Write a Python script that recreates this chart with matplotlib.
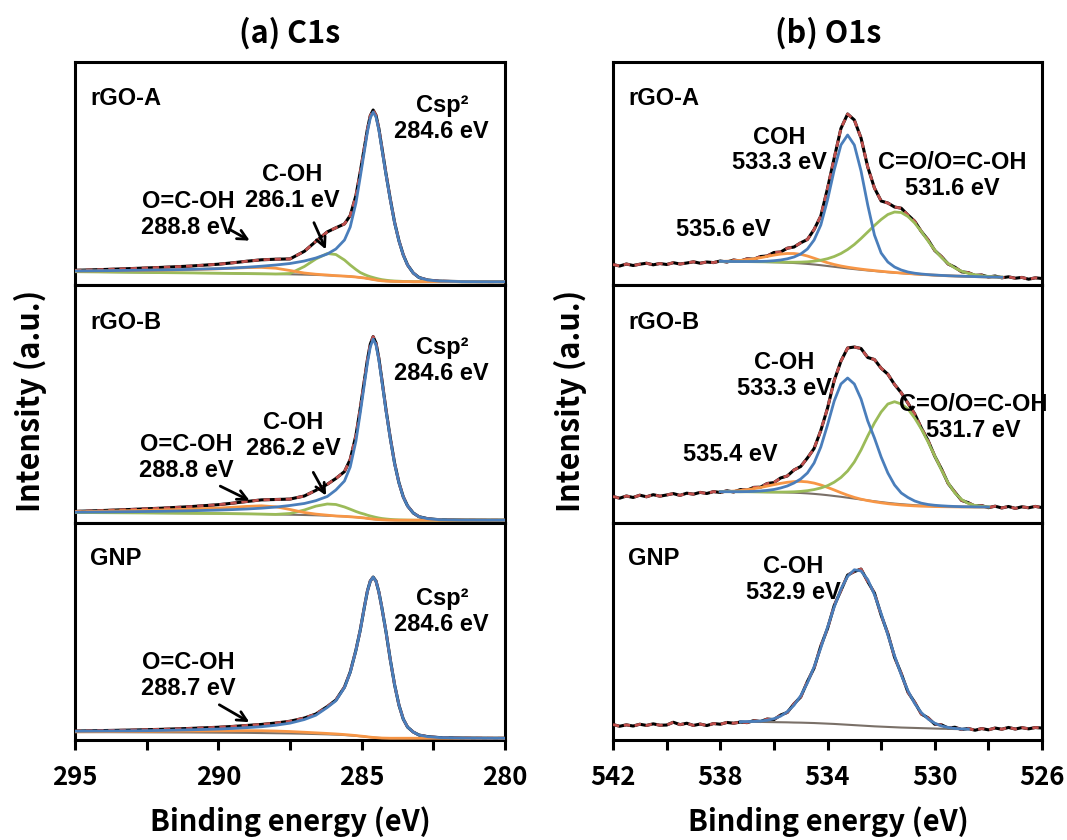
import numpy as np
import matplotlib
matplotlib.use("Agg")
import matplotlib.pyplot as plt

# ---------------- C1s (binding energy grid shared by all three C1s panels)
E_C1S = [295, 294, 293, 292, 291, 290, 289.5, 289, 288.5, 288, 287.5, 287,
         286.6, 286.2, 285.9, 285.6, 285.4, 285.2, 285.05, 284.9, 284.8, 284.7,
         284.6, 284.5, 284.4, 284.3, 284.15, 284.0, 283.85, 283.7, 283.55, 283.4,
         283.2, 283.0, 282.7, 282.3, 281.5, 280.5, 280]

# rGO-A
c1s_a_data = [14.7, 15.5, 16.5, 17.6, 18.9, 20.8, 22.2, 23.8, 25.2, 25.8, 26.1, 33.7,
              43.6, 53.1, 57.2, 61.1, 69.5, 89.5, 113.0, 138.5, 155.8, 169.3,
              175.0, 169.7, 156.4, 138.2, 110.9, 85.6, 62.4, 44.3, 30.2, 20.1,
              12.0, 7.5, 5.0, 3.9, 3.4, 3.3, 3.3]
c1s_a_bg = [13.3, 13.0, 12.7, 12.4, 12.1, 11.8, 11.6, 11.4, 11.2, 11.0, 10.7, 10.4,
            10.1, 9.7, 9.3, 8.9, 8.5, 8.0, 7.5, 7.0, 6.5, 6.0,
            5.5, 5.0, 4.6, 4.2, 3.9, 3.7, 3.6, 3.5, 3.4, 3.4,
            3.3, 3.3, 3.3, 3.3, 3.3, 3.3, 3.3]
c1s_a_csp2 = [14.0, 14.3, 14.7, 15.1, 15.6, 16.4, 17.0, 17.8, 18.8, 20.0, 21.5, 24.0,
              27.0, 31.0, 36.0, 45.0, 58.0, 82.0, 108.0, 135.0, 153.0, 167.0,
              173.0, 168.0, 155.0, 137.0, 110.0, 85.0, 62.0, 44.0, 30.0, 20.0,
              12.0, 7.5, 5.0, 3.9, 3.4, 3.3, 3.3]
c1s_a_coh = [13.3, 13.0, 12.7, 12.4, 12.1, 11.8, 11.6, 11.4, 11.2, 11.0, 11.5, 18.5,
             26.0, 31.5, 30.5, 25.0, 20.0, 15.5, 12.5, 10.5, 9.3, 8.3,
             7.5, 6.7, 6.0, 5.4, 4.8, 4.3, 4.0, 3.8, 3.6, 3.5,
             3.3, 3.3, 3.3, 3.3, 3.3, 3.3, 3.3]
c1s_a_cooh = [14.0, 14.2, 14.5, 14.9, 15.4, 16.2, 16.8, 17.4, 17.6, 16.8, 14.5, 12.0,
              10.8, 10.0, 9.3, 8.9, 8.5, 8.0, 7.5, 7.0, 6.5, 6.0,
              5.5, 5.0, 4.6, 4.2, 3.9, 3.7, 3.6, 3.5, 3.4, 3.4,
              3.3, 3.3, 3.3, 3.3, 3.3, 3.3, 3.3]

# rGO-B
c1s_b_data = [11.6, 12.5, 13.6, 14.8, 16.3, 18.3, 19.8, 21.5, 23.1, 23.5, 23.9, 27.0,
              32.6, 38.7, 44.5, 51.4, 63.6, 87.7, 114.6, 143.8, 163.2, 178.8,
              186.4, 180.0, 164.6, 144.3, 113.0, 84.7, 59.5, 40.3, 26.2, 17.1,
              10.0, 6.3, 4.3, 3.3, 2.9, 2.8, 2.8]
c1s_b_bg = [10.5, 10.3, 10.1, 9.9, 9.7, 9.5, 9.3, 9.1, 8.9, 8.6, 8.3, 8.0,
            7.7, 7.3, 7.0, 6.6, 6.2, 5.8, 5.4, 5.0, 4.6, 4.2,
            3.9, 3.6, 3.4, 3.2, 3.0, 2.9, 2.8, 2.8, 2.8, 2.8,
            2.8, 2.8, 2.8, 2.8, 2.8, 2.8, 2.8]
c1s_b_csp2 = [10.8, 11.0, 11.3, 11.7, 12.2, 12.9, 13.4, 14.0, 14.8, 15.9, 17.5, 19.5,
              22.3, 26.5, 33.0, 42.0, 56.0, 82.0, 110.0, 140.0, 160.0, 176.0,
              184.0, 178.0, 163.0, 143.0, 112.0, 84.0, 59.0, 40.0, 26.0, 17.0,
              10.0, 6.3, 4.3, 3.3, 2.9, 2.8, 2.8]
c1s_b_coh = [10.5, 10.3, 10.1, 9.9, 9.7, 9.5, 9.3, 9.1, 8.9, 8.6, 9.5, 13.0,
             16.8, 19.0, 18.5, 16.0, 13.8, 11.5, 10.0, 8.8, 7.8, 7.0,
             6.3, 5.6, 5.0, 4.5, 4.0, 3.6, 3.3, 3.1, 3.0, 2.9,
             2.8, 2.8, 2.8, 2.8, 2.8, 2.8, 2.8]
c1s_b_cooh = [11.3, 11.8, 12.4, 13.0, 13.8, 14.9, 15.7, 16.6, 17.2, 16.2, 13.5, 10.5,
              8.9, 7.8, 7.0, 6.6, 6.2, 5.8, 5.4, 5.0, 4.6, 4.2,
              3.9, 3.6, 3.4, 3.2, 3.0, 2.9, 2.8, 2.8, 2.8, 2.8,
              2.8, 2.8, 2.8, 2.8, 2.8, 2.8, 2.8]

# GNP
c1s_g_data = [9.0, 9.5, 10.0, 10.7, 11.6, 12.8, 13.6, 14.6, 15.6, 17.0, 18.8, 22.0,
              26.0, 33.5, 40.0, 53.0, 68.0, 90.0, 110.0, 134.0, 149.0, 159.0,
              163.0, 159.0, 148.0, 133.0, 108.0, 80.0, 55.0, 35.0, 21.0, 13.0,
              8.0, 5.0, 3.4, 2.5, 2.0, 1.8, 1.8]
c1s_g_bg = [8.0, 7.9, 7.8, 7.7, 7.6, 7.4, 7.3, 7.2, 7.0, 6.8, 6.6, 6.3,
            6.0, 5.7, 5.4, 5.0, 4.6, 4.2, 3.8, 3.4, 3.1, 2.8,
            2.5, 2.3, 2.1, 2.0, 1.9, 1.8, 1.8, 1.8, 1.8, 1.8,
            1.8, 1.8, 1.8, 1.8, 1.8, 1.8, 1.8]
c1s_g_csp2 = [8.8, 9.0, 9.2, 9.6, 10.2, 11.0, 11.6, 12.4, 13.3, 14.8, 16.9, 20.5,
              24.8, 32.6, 39.3, 52.5, 67.6, 89.7, 109.8, 133.8, 148.9, 158.9,
              162.9, 158.9, 148.0, 133.0, 108.0, 80.0, 55.0, 35.0, 21.0, 13.0,
              8.0, 5.0, 3.4, 2.5, 2.0, 1.8, 1.8]
c1s_g_cooh = [8.2, 8.4, 8.6, 8.8, 9.0, 9.2, 9.3, 9.4, 9.3, 9.0, 8.5, 7.8,
              7.2, 6.6, 6.1, 5.5, 5.0, 4.5, 4.0, 3.6, 3.2, 2.9,
              2.6, 2.4, 2.2, 2.0, 1.9, 1.8, 1.8, 1.8, 1.8, 1.8,
              1.8, 1.8, 1.8, 1.8, 1.8, 1.8, 1.8]

# ---------------- O1s: measured spectra on 0.25 eV steps from 542 to 526 eV
E_O1S = np.linspace(542, 526, 65)

o1s_a_data = [20.5, 19.0, 21.0, 19.5, 20.8, 21.8, 20.2, 21.5, 20.5, 22.3, 21.0, 22.0,
              23.2, 21.8, 23.0, 22.4, 24.0,
              23.0, 25.0, 24.0, 26.2, 25.8, 28.5, 29.0, 32.5, 33.0, 36.8, 38.0, 42.2,
              45.5, 55.5, 69.0, 96.5, 127.0, 156.5, 171.0, 165.0, 147.0, 118.0, 97.0,
              84.0, 82.0, 78.0, 76.8, 70.0, 63.8, 53.5, 45.2, 34.5, 28.4, 21.0, 17.8,
              13.2, 12.4, 9.6, 10.0, 8.0, 9.0, 7.2,
              8.2, 6.8, 7.6, 5.8, 7.2, 6.5]
o1s_b_data = [26.5, 24.8, 27.0, 25.5, 27.8, 26.2, 28.3, 26.8, 28.0, 29.4, 27.6, 29.8,
              28.8, 30.6, 29.5, 31.4,
              30.5, 32.2, 31.0, 33.4, 32.8, 35.6, 35.8, 39.5, 40.4, 45.0, 47.0, 53.0,
              56.5, 65.0, 74.5, 92.5, 114.8, 142.5, 161.8, 175.0, 176.0, 174.5, 165.5,
              163.5, 154.8, 148.8, 138.5, 130.2, 119.8, 109.2, 95.0, 82.5, 66.8, 54.0,
              39.5, 30.8, 22.6, 20.3, 16.8, 17.4, 15.3,
              16.8, 15.0, 16.5, 14.6, 16.2, 15.2, 16.6, 15.4]
o1s_g_data = [15.5, 13.8, 15.2, 14.0, 15.8, 14.6, 16.2, 14.8, 15.0, 17.8, 15.4, 16.8,
              14.6, 16.0, 14.5, 16.5, 15.8, 17.6, 16.8,
              18.0, 17.4, 19.4, 18.5, 21.0, 20.4, 25.0, 27.6, 36.2, 43.0, 58.5, 72.0,
              94.0, 111.5, 134.5, 149.5, 165.0, 168.5, 171.0, 158.5, 147.0, 125.0,
              106.5, 82.8, 66.5, 47.8, 37.8, 26.0, 22.2, 15.8, 15.2, 12.0, 12.8, 10.5,
              11.6,
              9.8, 11.5, 10.2, 12.0, 10.8, 12.6, 11.0, 12.4, 11.2, 12.5, 12.0]

# fitted components (fit windows, 0.25 eV steps)
E_FIT_A = np.linspace(538, 527.5, 43)
o1s_a_bg = [23.6, 23.6, 23.5, 23.5, 23.4, 23.3, 23.2, 23.0, 22.8, 22.6,
            22.3, 22.0, 21.6, 21.1, 20.5, 19.8, 19.0, 18.2, 17.4, 16.6,
            15.9, 15.2, 14.6, 14.0, 13.4, 12.8, 12.3, 11.8, 11.3, 10.9,
            10.5, 10.1, 9.8, 9.5, 9.2, 9.0, 8.8, 8.6, 8.4, 8.2,
            8.0, 7.9, 7.8]
o1s_a_coh = [23.6, 23.6, 23.5, 23.5, 23.5, 23.5, 23.6, 23.8, 24.3, 25.0,
             26.2, 28.0, 31.0, 36.0, 45.0, 60.0, 85.0, 115.0, 140.0, 150.0,
             140.0, 114.0, 80.0, 50.0, 32.0, 23.0, 18.0, 15.0, 13.0, 11.8,
             11.0, 10.4, 10.0, 9.6, 9.3, 9.0, 8.8, 8.6, 8.4, 8.2,
             8.0, 7.9, 7.8]
o1s_a_co = [23.6, 23.6, 23.5, 23.5, 23.4, 23.3, 23.2, 23.1, 23.0, 22.9,
            22.8, 22.8, 22.9, 23.2, 23.8, 24.8, 26.3, 28.5, 31.5, 35.5,
            40.5, 46.5, 53.0, 59.5, 65.5, 70.5, 73.0, 72.5, 68.5, 62.0,
            53.5, 44.0, 35.0, 27.5, 21.5, 17.0, 13.8, 11.6, 10.2, 9.2,
            8.6, 8.2, 7.9]
o1s_a_h2o = [23.6, 23.8, 24.1, 24.6, 25.3, 26.2, 27.3, 28.6, 29.9, 30.9,
             31.5, 31.5, 30.7, 29.0, 26.8, 24.5, 22.3, 20.5, 19.0, 17.8,
             16.8, 15.9, 15.1, 14.4, 13.7, 13.1, 12.5, 12.0, 11.5, 11.0,
             10.6, 10.2, 9.8, 9.5, 9.2, 9.0, 8.8, 8.6, 8.4, 8.2,
             8.0, 7.9, 7.8]

E_FIT_B = np.linspace(538, 528, 41)
o1s_b_bg = [31.3, 31.3, 31.3, 31.2, 31.2, 31.1, 31.0, 30.9, 30.8, 30.7,
            30.5, 30.3, 30.0, 29.6, 29.1, 28.5, 27.8, 27.0, 26.2, 25.3,
            24.4, 23.5, 22.6, 21.7, 20.9, 20.1, 19.4, 18.8, 18.3, 17.8,
            17.4, 17.1, 16.8, 16.6, 16.4, 16.3, 16.2, 16.1, 16.0, 16.0,
            16.0]
o1s_b_coh = [31.3, 31.3, 31.3, 31.3, 31.4, 31.6, 32.0, 32.6, 33.5, 35.0,
             37.0, 40.0, 44.0, 50.0, 60.0, 76.0, 98.0, 122.0, 139.0, 145.0,
             139.0, 124.0, 102.0, 85.0, 66.0, 50.0, 38.0, 30.0, 25.5, 22.0,
             19.8, 18.5, 17.7, 17.2, 16.8, 16.5, 16.3, 16.2, 16.1, 16.0,
             16.0]
o1s_b_co = [31.3, 31.3, 31.3, 31.2, 31.2, 31.1, 31.0, 30.9, 30.9, 30.9,
            31.0, 31.2, 31.6, 32.3, 33.4, 35.0, 37.3, 40.8, 45.5, 52.0,
            61.0, 73.0, 87.0, 100.0, 111.0, 119.0, 121.3, 119.0, 114.0, 105.0,
            94.0, 81.0, 67.0, 53.0, 40.0, 30.0, 23.5, 19.5, 17.5, 16.6,
            16.2]
o1s_b_h2o = [31.3, 31.5, 31.9, 32.5, 33.3, 34.3, 35.5, 36.9, 38.3, 39.6,
             40.7, 41.4, 41.6, 41.1, 39.9, 38.0, 35.6, 33.0, 30.3, 27.8,
             25.6, 23.8, 22.4, 21.2, 20.2, 19.3, 18.6, 18.0, 17.5, 17.1,
             16.8, 16.6, 16.4, 16.3, 16.2, 16.1, 16.0, 16.0, 15.9, 15.9,
             15.9]

E_FIT_G = np.linspace(537.25, 528.75, 35)
o1s_g_bg = [18.3, 18.3, 18.2, 18.1, 18.0, 17.9, 17.8, 17.7, 17.5, 17.4,
            17.2, 17.0, 16.7, 16.4, 16.1, 15.7, 15.3, 14.9, 14.5, 14.1,
            13.7, 13.4, 13.1, 12.8, 12.5, 12.3, 12.1, 11.9, 11.7, 11.5,
            11.3, 11.2, 11.0, 10.9, 10.8]
o1s_g_coh = [18.3, 18.5, 18.6, 19.0, 19.8, 21.3, 23.9, 28.3, 34.8, 44.3,
             57.1, 73.2, 92.2, 112.7, 133.1, 150.8, 163.8, 170.3, 169.1, 160.5,
             145.5, 126.4, 105.2, 84.2, 65.2, 49.3, 36.6, 27.4, 21.0, 16.8,
             14.1, 12.6, 11.6, 11.1, 10.9]

C1S_TICKS = [295, 290, 285, 280]
C1S_MINOR = [292.5, 287.5, 282.5]
O1S_TICKS = [542, 538, 534, 530, 526]
O1S_MINOR = [540, 536, 532, 528]
SAMPLES = ["rGO-A", "rGO-B", "GNP"]

BLUE = "#4a7ebb"
GREEN = "#9bbb59"
ORANGE = "#f79646"
GRAY = "#7a7068"
RED = "#c0504d"

LABEL_FONT = ["Noto Sans CJK KR", "DejaVu Sans"]
NOTE_FONT = "Liberation Sans"

fig = plt.figure(figsize=(10.67, 8.4), dpi=100)

# panel rows (bottom, height) in figure fraction, and their pixel heights (= y range)
rows = [(0.6607, 0.2655, 223), (0.3774, 0.2833, 238), (0.1190, 0.2583, 217)]
left_x, left_w = 0.0703, 0.4030
right_x, right_w = 0.5745, 0.4021


def draw(ax, e_data, data, e_fit, bg, comps):
    ax.plot(e_data, data, color="black", lw=2.2, zorder=2)
    ax.plot(e_data, data, color=RED, lw=2.0, ls=(0, (2.3, 1.7)), zorder=3)
    ax.plot(e_fit, bg, color=GRAY, lw=1.5, zorder=4)
    for vals, col in comps:
        ax.plot(e_fit, vals, color=col, lw=2.0, zorder=5)


def style(ax, xlim, ymax, bottom, ticks, minor):
    ax.set_xlim(*xlim)
    ax.set_ylim(0, ymax)
    for s in ax.spines.values():
        s.set_linewidth(2.2)
    ax.set_yticks([])
    if bottom:
        ax.set_xticks(ticks)
        ax.set_xticks(minor, minor=True)
        ax.set_xticklabels([str(t) for t in ticks], fontfamily=LABEL_FONT,
                           fontweight="bold", fontsize=18.5)
        ax.tick_params(axis="x", which="both", direction="out", length=7,
                       width=2.2, pad=10)
    else:
        ax.set_xticks([])


def note(ax, x, y, s, ha="left"):
    ax.text(x, y, s, transform=ax.transAxes, ha=ha, va="top", fontsize=17,
            fontfamily=NOTE_FONT, fontweight="bold", linespacing=1.15, zorder=6)


def arrow(ax, tail, tip):
    ax.annotate("", xy=tip, xytext=tail, xycoords="axes fraction",
                textcoords="axes fraction",
                arrowprops=dict(arrowstyle="->", color="black", lw=2.0,
                                mutation_scale=17))


c1s_sets = [
    (c1s_a_data, c1s_a_bg, [(c1s_a_coh, GREEN), (c1s_a_cooh, ORANGE), (c1s_a_csp2, BLUE)]),
    (c1s_b_data, c1s_b_bg, [(c1s_b_coh, GREEN), (c1s_b_cooh, ORANGE), (c1s_b_csp2, BLUE)]),
    (c1s_g_data, c1s_g_bg, [(c1s_g_cooh, ORANGE), (c1s_g_csp2, BLUE)]),
]
o1s_sets = [
    (o1s_a_data, E_FIT_A, o1s_a_bg, [(o1s_a_h2o, ORANGE), (o1s_a_co, GREEN), (o1s_a_coh, BLUE)]),
    (o1s_b_data, E_FIT_B, o1s_b_bg, [(o1s_b_h2o, ORANGE), (o1s_b_co, GREEN), (o1s_b_coh, BLUE)]),
    (o1s_g_data, E_FIT_G, o1s_g_bg, [(o1s_g_coh, BLUE)]),
]

left_axes, right_axes = [], []
for i, (yb, hh, ymax) in enumerate(rows):
    axl = fig.add_axes([left_x, yb, left_w, hh])
    data, bg, comps = c1s_sets[i]
    draw(axl, E_C1S, data, E_C1S, bg, comps)
    style(axl, (295, 280), ymax, i == 2, C1S_TICKS, C1S_MINOR)
    note(axl, 0.035, 0.89, SAMPLES[i])
    left_axes.append(axl)

    axr = fig.add_axes([right_x, yb, right_w, hh])
    data, e_fit, bg, comps = o1s_sets[i]
    draw(axr, E_O1S, data, e_fit, bg, comps)
    style(axr, (542, 526), ymax, i == 2, O1S_TICKS, O1S_MINOR)
    note(axr, 0.035, 0.89, SAMPLES[i])
    right_axes.append(axr)

# C1s notes
a, b, g = left_axes
note(a, 0.853, 0.855, "Csp²\n284.6 eV", ha="center")
note(a, 0.505, 0.545, "C-OH\n286.1 eV", ha="center")
note(a, 0.263, 0.425, "O=C-OH\n288.8 eV", ha="center")
arrow(a, (0.353, 0.256), (0.412, 0.193))
arrow(a, (0.553, 0.291), (0.586, 0.148))

note(b, 0.853, 0.785, "Csp²\n284.6 eV", ha="center")
note(b, 0.507, 0.47, "C-OH\n286.2 eV", ha="center")
note(b, 0.258, 0.378, "O=C-OH\n288.8 eV", ha="center")
arrow(b, (0.332, 0.16), (0.412, 0.089))
arrow(b, (0.551, 0.223), (0.587, 0.105))

note(g, 0.853, 0.705, "Csp²\n284.6 eV", ha="center")
note(g, 0.263, 0.41, "O=C-OH\n288.7 eV", ha="center")
arrow(g, (0.33, 0.169), (0.411, 0.076))

# O1s notes
a, b, g = right_axes
note(a, 0.387, 0.714, "COH\n533.3 eV", ha="center")
note(a, 0.79, 0.60, "C=O/O=C-OH\n531.6 eV", ha="center")
note(a, 0.256, 0.30, "535.6 eV", ha="center")

note(b, 0.40, 0.722, "C-OH\n533.3 eV", ha="center")
note(b, 0.84, 0.546, "C=O/O=C-OH\n531.7 eV", ha="center")
note(b, 0.273, 0.336, "535.4 eV", ha="center")

note(g, 0.42, 0.852, "C-OH\n532.9 eV", ha="center")

# titles, x labels and shared y labels
lab = dict(fontfamily=LABEL_FONT, fontweight="bold")
fig.text(290 / 1067, 1 - 33 / 840, "(a) C1s", ha="center", va="center",
         fontsize=22, **lab)
fig.text(828 / 1067, 1 - 33 / 840, "(b) O1s", ha="center", va="center",
         fontsize=22, **lab)
fig.text(290 / 1067, 1 - 831 / 840, "Binding energy (eV)", ha="center",
         va="baseline", fontsize=21, **lab)
fig.text(828 / 1067, 1 - 831 / 840, "Binding energy (eV)", ha="center",
         va="baseline", fontsize=21, **lab)
fig.text(30 / 1067, 1 - 401 / 840, "Intensity (a.u.)", rotation=90, ha="center",
         va="center", fontsize=22, **lab)
fig.text(570 / 1067, 1 - 401 / 840, "Intensity (a.u.)", rotation=90, ha="center",
         va="center", fontsize=22, **lab)

fig.savefig("out.png", dpi=100)
